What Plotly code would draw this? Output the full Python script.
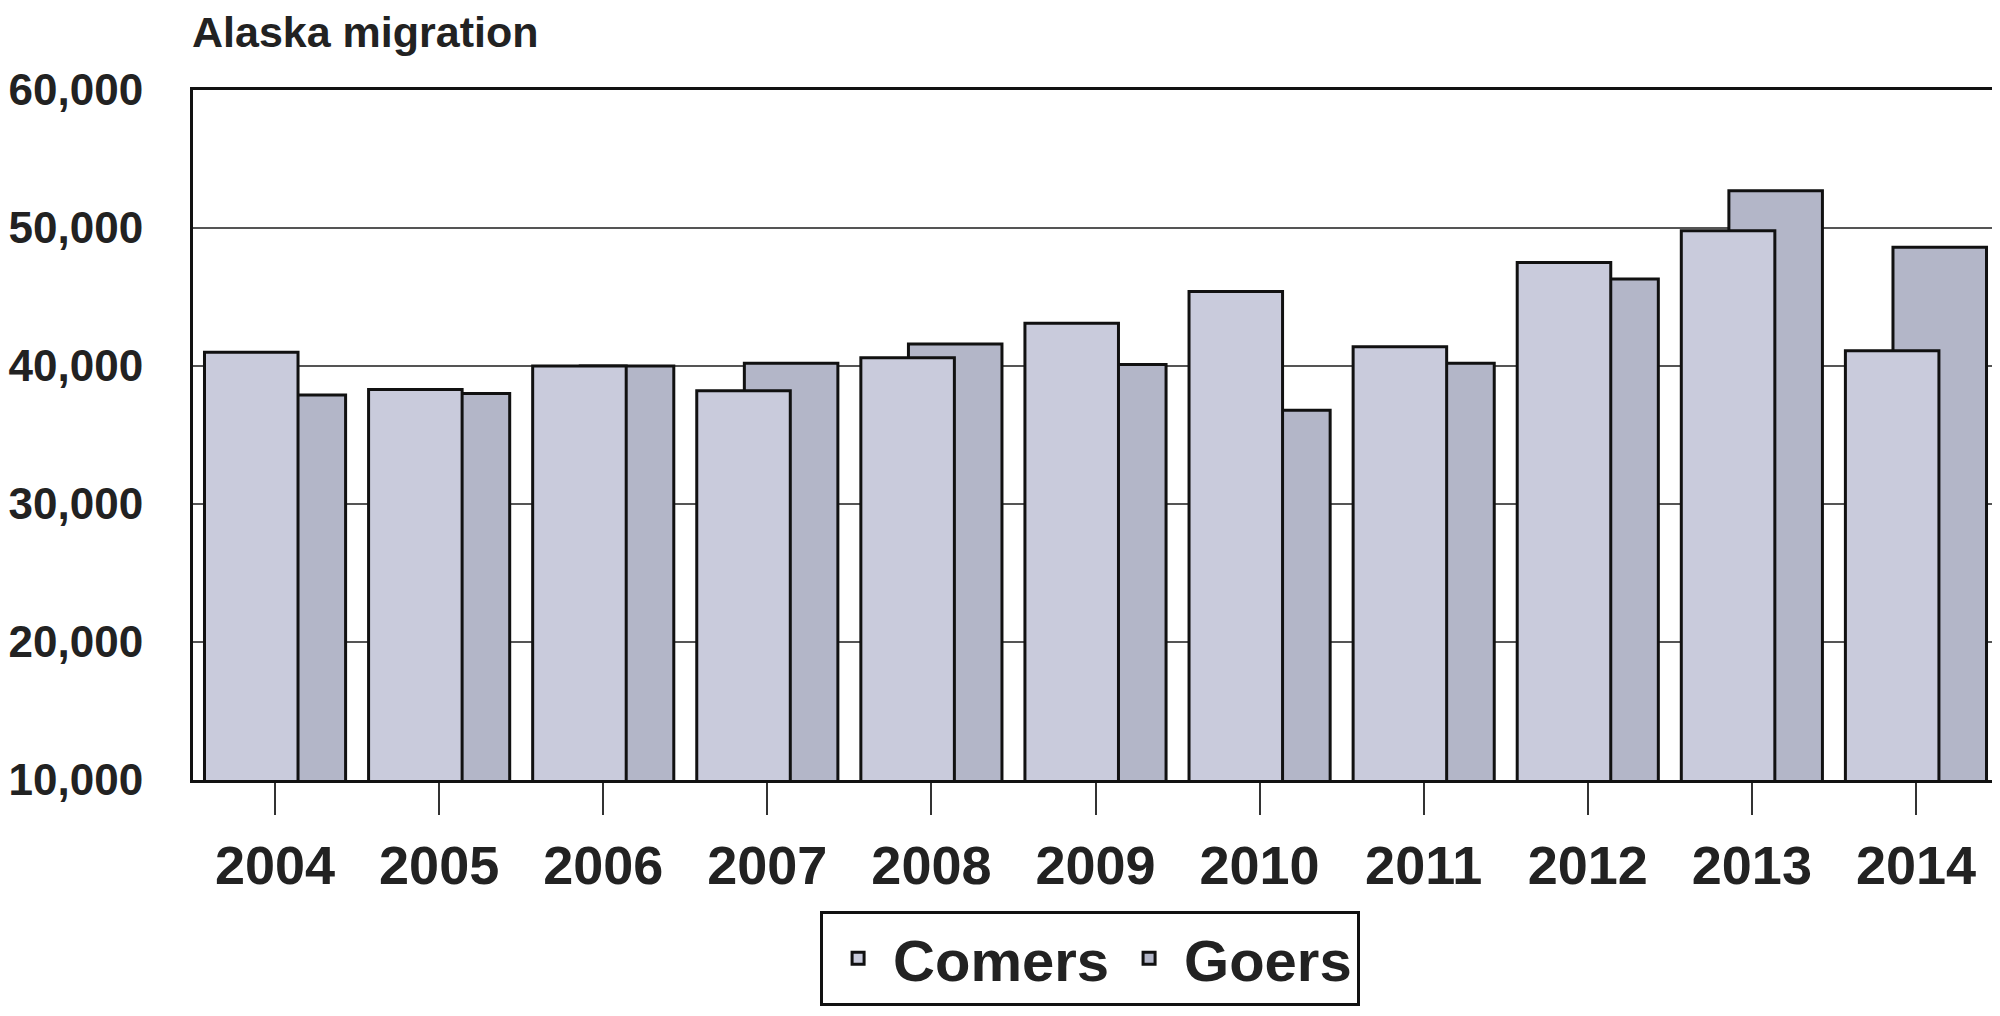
import plotly.graph_objects as go

years = ["2004", "2005", "2006", "2007", "2008", "2009", "2010", "2011", "2012", "2013", "2014"]
comers = [41000, 38300, 40000, 38200, 40600, 43100, 45400, 41400, 47500, 49800, 41100]
goers = [37900, 38000, 40000, 40200, 41600, 40100, 36800, 40200, 46300, 52700, 48600]
y_ticks = [10000, 20000, 30000, 40000, 50000, 60000]
y_tick_labels = ["10,000", "20,000", "30,000", "40,000", "50,000", "60,000"]

FONT = "Liberation Sans Narrow, Arial Narrow, Liberation Sans, Arial, sans-serif"
BAR_W = 0.57

fig = go.Figure()
# Goers drawn first so Comers overlaps it
fig.add_trace(go.Bar(
    x=years, y=goers, name="Goers",
    width=BAR_W, offset=-0.14,
    marker=dict(color="#b3b6c8", line=dict(color="#111111", width=3)),
))
fig.add_trace(go.Bar(
    x=years, y=comers, name="Comers",
    width=BAR_W, offset=-0.43,
    marker=dict(color="#c9cbdc", line=dict(color="#111111", width=3)),
))

fig.update_layout(
    width=2000, height=1016,
    barmode="overlay",
    paper_bgcolor="white", plot_bgcolor="white",
    margin=dict(l=185, r=10, t=82, b=244, autoexpand=False),
    font=dict(family=FONT, color="#222222", weight=700),
    title=dict(
        text="Alaska migration",
        font=dict(family=FONT, size=43, color="#222222", weight=700),
        xref="container", x=0.092, xanchor="left",
        yref="container", y=1 - 24 / 1016, yanchor="middle",
    ),
    legend=dict(
        orientation="h", traceorder="reversed",
        x=0.497, xanchor="center", y=-0.19, yanchor="top",
        font=dict(family=FONT, size=58, color="#222222", weight=700),
        bordercolor="#111111", borderwidth=3,
        bgcolor="white", itemwidth=60,
    ),
    xaxis=dict(
        type="category",
        showline=True, mirror=True, linecolor="#111111", linewidth=3,
        ticks="outside", ticklen=32, tickwidth=2, tickcolor="#333333",
        tickfont=dict(family=FONT, size=54, color="#222222", weight=700),
        ticklabelstandoff=4,
        showgrid=False, automargin=False,
    ),
    yaxis=dict(
        range=[10000, 60000],
        tickvals=y_ticks, ticktext=y_tick_labels,
        showline=True, mirror=True, linecolor="#111111", linewidth=3,
        showgrid=True, gridcolor="#555555", gridwidth=1.5,
        ticks="", ticklabelstandoff=38,
        tickfont=dict(family=FONT, size=44, color="#222222", weight=700),
        zeroline=False, automargin=False,
    ),
)

fig.write_html("out.html")
